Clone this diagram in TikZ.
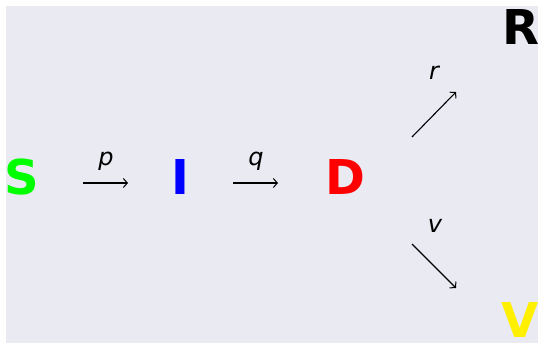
\documentclass[tikz,border=0pt]{standalone}
\usepackage{fontspec}
\setmainfont{DejaVu Sans}
\usetikzlibrary{arrows.meta}
\definecolor{axbg}{HTML}{EAEAF2}
\definecolor{sgreen}{RGB}{0,255,0}
\definecolor{vyellow}{RGB}{255,240,0}
\tikzset{
  big/.style={inner sep=0pt, font=\fontsize{48}{50}\selectfont\bfseries},
  lbl/.style={inner sep=0pt, anchor=base, font=\fontsize{24}{26}\selectfont\itshape},
  flow/.style={line width=1.1pt, -{Straight Barb[length=4pt,width=9pt,line width=1pt]}}
}
\begin{document}
\begin{tikzpicture}[x=1pt,y=-1pt]
\useasboundingbox (0,0) rectangle (538,345);
\fill[axbg] (6,6) rectangle (545,343);
\node[big, text=sgreen] (S) at (21.5,177.5) {S};
\node[big, text=blue] (I) at (180,177.5) {I};
\node[big, text=red] (D) at (345.5,177.5) {D};
\node[big, text=black] (R) at (520.5,27.5) {R};
\node[big, text=vyellow] (V) at (520,320.5) {V};
\coordinate (a1s) at (83,183);
\coordinate (a1e) at (128,183);
\coordinate (a2s) at (233,183);
\coordinate (a2e) at (278,183);
\coordinate (a3s) at (412,137);
\coordinate (a3e) at (456,92);
\coordinate (a4s) at (412,244);
\coordinate (a4e) at (456,288);
\draw[flow] (a1s) -- (a1e);
\draw[flow] (a2s) -- (a2e);
\draw[flow] (a3s) -- (a3e);
\draw[flow] (a4s) -- (a4e);
\node[lbl] (p) at (106,165) {p};
\node[lbl] (q) at (256,165) {q};
\node[lbl] (r) at (434,80) {r};
\node[lbl] (v) at (435,232) {v};
\end{tikzpicture}
\end{document}
